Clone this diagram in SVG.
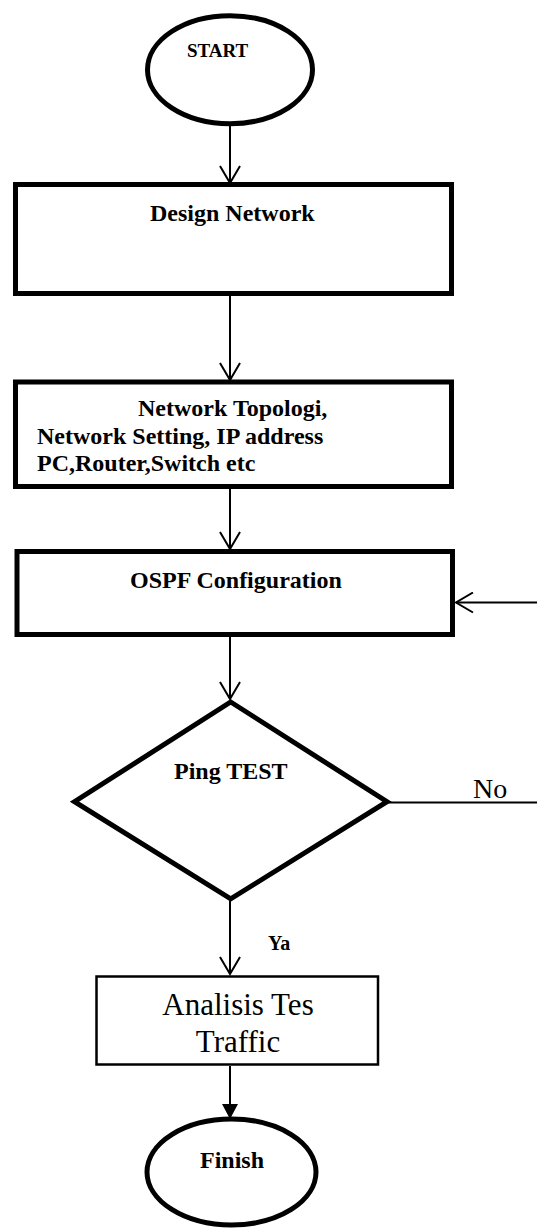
<svg xmlns="http://www.w3.org/2000/svg" width="537" height="1228" viewBox="0 0 537 1228">
<style>
.node{fill:#fff;stroke:#000;stroke-width:5}
.thin{fill:#fff;stroke:#000;stroke-width:2.5}
.conn{fill:none;stroke:#000;stroke-width:2}
text{font-family:'Liberation Serif','DejaVu Serif',serif;fill:#000}
.lbl{font-weight:bold;font-size:24px}
.reg{font-weight:normal}
</style>
<defs>
<marker id="open" markerUnits="userSpaceOnUse" viewBox="0 0 20 22" markerWidth="20" markerHeight="22" refX="18" refY="11" orient="auto">
<path d="M1,1 L18,11 L1,21" fill="none" stroke="#000" stroke-width="2"/>
</marker>
<marker id="solid" markerUnits="userSpaceOnUse" viewBox="0 0 15 16" markerWidth="15" markerHeight="16" refX="15" refY="8" orient="auto">
<path d="M0,0 L15,8 L0,16 z" fill="#000"/>
</marker>
</defs>
<g id="connectors">
<line class="conn" x1="230" y1="126" x2="230" y2="183" marker-end="url(#open)"/>
<line class="conn" x1="230" y1="296" x2="230" y2="380" marker-end="url(#open)"/>
<line class="conn" x1="230" y1="489" x2="230" y2="549" marker-end="url(#open)"/>
<line class="conn" x1="230" y1="637" x2="230" y2="699" marker-end="url(#open)"/>
<line class="conn" x1="230" y1="901" x2="230" y2="974" marker-end="url(#open)"/>
<line class="conn" x1="230" y1="1066" x2="230" y2="1119" marker-end="url(#solid)"/>
<path class="conn" d="M388,802.5 H540 V602.5 H456" marker-end="url(#open)"/>
<text class="reg" x="473" y="798" style="font-size:28px">No</text>
<text class="lbl" x="268" y="950" style="font-size:20px">Ya</text>
</g>
<g id="start">
<ellipse class="node" cx="230" cy="69.7" rx="82.5" ry="54"/>
<text class="lbl" x="187" y="57" style="font-size:19px">START</text>
</g>
<g id="design">
<rect class="node" x="15.5" y="184.5" width="436" height="109"/>
<text class="lbl" x="150" y="221">Design Network</text>
</g>
<g id="topologi">
<rect class="node" x="15.5" y="382" width="436" height="104.5"/>
<text class="lbl" x="138" y="416">Network Topologi,</text>
<text class="lbl" x="37" y="444">Network Setting, IP address</text>
<text class="lbl" x="37" y="471">PC,Router,Switch etc</text>
</g>
<g id="ospf">
<rect class="node" x="17" y="551.5" width="435.5" height="83"/>
<text class="lbl" x="130" y="588">OSPF Configuration</text>
</g>
<g id="ping">
<polygon class="node" points="230.7,702 387,801.7 230.7,898.8 74.5,801.7"/>
<text class="lbl" x="174" y="779">Ping TEST</text>
</g>
<g id="analisis">
<rect class="thin" x="96.5" y="976.5" width="281.5" height="88"/>
<text class="reg" x="238" y="1015" text-anchor="middle" style="font-size:31px">Analisis Tes</text>
<text class="reg" x="238" y="1052" text-anchor="middle" style="font-size:31px">Traffic</text>
</g>
<g id="finish">
<ellipse class="node" cx="231.5" cy="1172" rx="84.5" ry="53"/>
<text class="lbl" x="200" y="1168">Finish</text>
</g>
</svg>
